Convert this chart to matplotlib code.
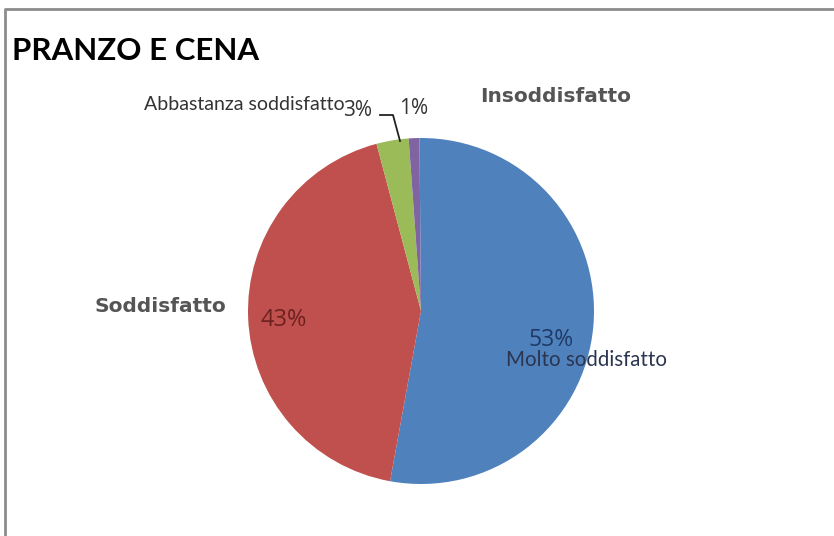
import matplotlib
matplotlib.use('Agg')
import matplotlib.pyplot as plt
from matplotlib.lines import Line2D

categories = ['Molto soddisfatto', 'Soddisfatto', 'Abbastanza soddisfatto', 'Insoddisfatto']
values = [53, 43, 3, 1]
colors = ['#4F81BD', '#C0504D', '#9BBB59', '#8064A2']

W, H = 834, 536
fig = plt.figure(figsize=(W/100, H/100), dpi=100)

def px(x, y):
    # pixel position (from top-left) -> figure fraction
    return x/W, 1 - y/H

# pie axes, centre (421, 311), radius 173 px
cx, cy, r = 421, 311, 173
ax = fig.add_axes([(cx-r)/W, (H-cy-r)/H, 2*r/W, 2*r/H])
ax.pie(values, colors=colors, startangle=90.5, counterclock=False,
       wedgeprops=dict(linewidth=0))
ax.set_xlim(-1, 1)
ax.set_ylim(-1, 1)
ax.set_aspect('equal')
ax.axis('off')

pct = ['%d%%' % v for v in values]
narrow = ['Lato', 'DejaVu Sans']
plain = ['Open Sans', 'DejaVu Sans']

# title
fig.text(*px(12, 51), 'PRANZO E CENA', family=narrow, weight='bold',
         fontsize=22.5, va='center', ha='left', color='black')

# Molto soddisfatto
fig.text(*px(551, 340), pct[0], fontsize=16.5, color='#1F3A66', ha='center', va='center',
         family=plain)
fig.text(*px(587, 360), categories[0], fontsize=14.8, color='#2B3550', ha='center', va='center',
         family=narrow)

# Soddisfatto
fig.text(*px(284, 320), pct[1], fontsize=17, color='#6E2220', ha='center', va='center',
         family=plain)
fig.text(*px(160, 307), categories[1], fontsize=14.5, color='#555555', ha='center', va='center',
         weight='bold')

# Abbastanza soddisfatto
fig.text(*px(345, 104), categories[2], fontsize=14, color='#333333', ha='right', va='center',
         family=narrow)
fig.text(*px(358, 110), pct[2], fontsize=15, color='#333333', ha='center', va='center',
         family=plain)

# Insoddisfatto
fig.text(*px(414, 108), pct[3], fontsize=15, color='#333333', ha='center', va='center',
         family=plain)
fig.text(*px(556, 97), categories[3], fontsize=14.5, color='#555555', ha='center', va='center',
         weight='bold')

# leader line for the small slice
xs = [380/W, 393/W, 400/W]
ys = [1-115/H, 1-115/H, 1-141/H]
fig.add_artist(Line2D(xs, ys, color='#222222', linewidth=1.3))

# chart frame
fig.add_artist(Line2D([5/W, 5/W, 1], [0, 1-9/H, 1-9/H], color='#8C8C8C', linewidth=2))

fig.savefig('out.png', dpi=100)
